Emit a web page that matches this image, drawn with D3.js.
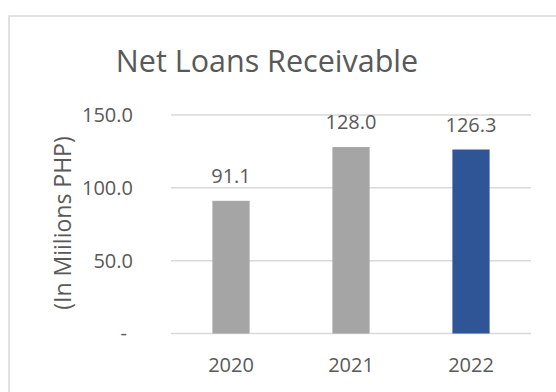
<!DOCTYPE html>
<html>
<head>
<meta charset="utf-8">
<script src="https://cdn.jsdelivr.net/npm/d3@7"></script>
<style>
  html, body { margin: 0; padding: 0; background: #fff; }
  text { font-family: "Open Sans", "Noto Sans", sans-serif; fill: #595959; }
</style>
</head>
<body>
<svg id="chart" width="556" height="392"></svg>
<script>
var years = ['2020', '2021', '2022'];
var loans = [91.1, 128.0, 126.3];
var barColors = ['#A5A5A5', '#A5A5A5', '#2F5597'];
var yTicks = [0, 50, 100, 150];

var svg = d3.select('#chart');

// chart frame (right and bottom edges fall outside the picture)
svg.append('path')
	.attr('d', 'M9,392V16H556')
	.attr('fill', 'none')
	.attr('stroke', '#D9D9D9')
	.attr('stroke-width', 1.5);

var plot = { left: 171, right: 531, top: 115, bottom: 333.5 };

var x = d3.scaleBand()
	.domain(years)
	.range([plot.left, plot.right])
	.paddingInner(0.69)
	.paddingOuter(0.345);

var y = d3.scaleLinear()
	.domain([0, 150])
	.range([plot.bottom, plot.top]);

// gridlines
svg.append('g')
	.selectAll('line')
	.data(yTicks)
	.enter().append('line')
	.attr('x1', plot.left)
	.attr('x2', plot.right)
	.attr('y1', function(d) { return y(d); })
	.attr('y2', function(d) { return y(d); })
	.attr('stroke', '#D9D9D9')
	.attr('stroke-width', 1.5);

// y axis labels
var yAxis = d3.axisLeft(y)
	.tickValues(yTicks)
	.tickSize(0)
	.tickPadding(0)
	.tickFormat(function(d) { return d === 0 ? '-' : d3.format('.1f')(d); });

var yG = svg.append('g')
	.attr('transform', 'translate(' + 133 + ',0)')
	.call(yAxis);
yG.select('.domain').remove();
yG.selectAll('text')
	.attr('font-size', 20)
	.attr('font-family', null)
	.attr('fill', '#595959');
yG.selectAll('.tick').filter(function(d) { return d === 0; })
	.select('text').attr('dx', -6);

// bars
svg.append('g')
	.selectAll('rect')
	.data(loans)
	.enter().append('rect')
	.attr('x', function(d, i) { return x(years[i]); })
	.attr('width', x.bandwidth())
	.attr('y', function(d) { return y(d); })
	.attr('height', function(d) { return y(0) - y(d); })
	.attr('fill', function(d, i) { return barColors[i]; });

// data labels
svg.append('g')
	.selectAll('text')
	.data(loans)
	.enter().append('text')
	.attr('x', function(d, i) { return x(years[i]) + x.bandwidth() / 2; })
	.attr('y', function(d) { return y(d) - 18; })
	.attr('text-anchor', 'middle')
	.attr('font-size', 20)
	.text(function(d) { return d3.format('.1f')(d); });

// x axis labels
var xAxis = d3.axisBottom(x).tickSize(0).tickPadding(0);
var xG = svg.append('g')
	.attr('transform', 'translate(0,' + 358 + ')')
	.call(xAxis);
xG.select('.domain').remove();
xG.selectAll('text')
	.attr('font-size', 20)
	.attr('font-family', null)
	.attr('fill', '#595959');

// title
svg.append('text')
	.attr('x', 267)
	.attr('y', 72)
	.attr('text-anchor', 'middle')
	.attr('font-size', 30.5)
	.text('Net Loans Receivable');

// y axis title
svg.append('text')
	.attr('transform', 'translate(71,223) rotate(-90)')
	.attr('text-anchor', 'middle')
	.attr('font-size', 23)
	.text('(In Miilions PHP)');
</script>
</body>
</html>
